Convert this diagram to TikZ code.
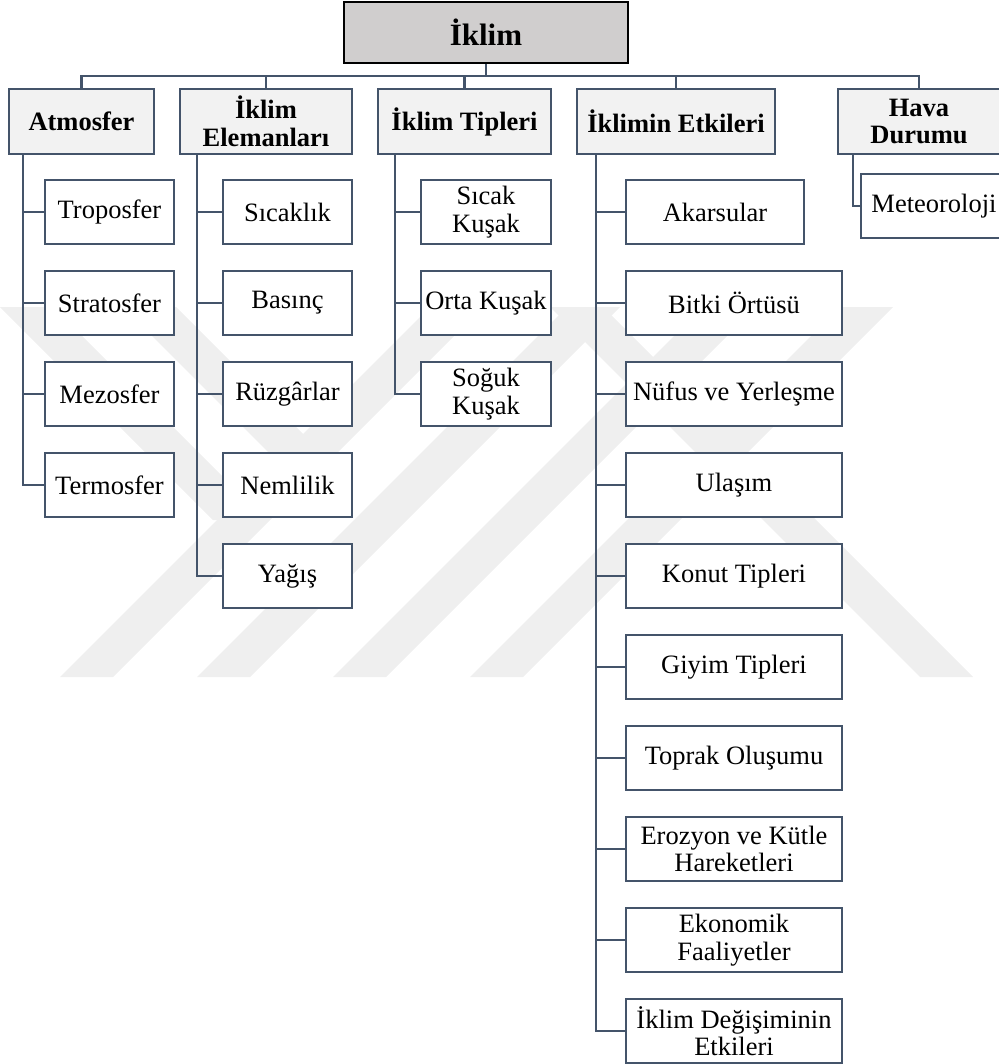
\documentclass[tikz,border=0pt]{standalone}
\usepackage{fontspec}
\setmainfont{Liberation Serif}
\definecolor{slate}{HTML}{44546A}
\definecolor{rootgray}{HTML}{D0CECE}
\definecolor{lvlgray}{HTML}{F2F2F2}
\definecolor{wmgray}{HTML}{EFEFEF}
\tikzset{
  conn/.style={draw=slate, line width=2.3pt},
  rootbox/.style={draw=black, line width=2.5pt, fill=rootgray, inner sep=0pt,
    minimum width=284pt, minimum height=61pt, font=\fontsize{31}{32}\selectfont\bfseries},
  topbox/.style={draw=slate, line width=2.3pt, fill=lvlgray, inner sep=0pt, align=center,
    minimum height=65pt, font=\fontsize{26.5}{27.5}\selectfont\bfseries},
  leafbox/.style={draw=slate, line width=2.3pt, fill=white, inner sep=0pt, align=center,
    minimum height=64pt, font=\fontsize{26.5}{27.5}\selectfont},
  wm/.style={fill=wmgray}
}
\begin{document}
\begin{tikzpicture}[x=1pt, y=-1pt]
\useasboundingbox (0,0) rectangle (998,1064);
% watermark
\fill[wm] (60,677) -- (113,677) -- (483,307) -- (430,307) -- cycle;
\fill[wm] (197,677) -- (250,677) -- (620,307) -- (567,307) -- cycle;
\fill[wm] (333,677) -- (386,677) -- (756,307) -- (703,307) -- cycle;
\fill[wm] (470,677) -- (523,677) -- (893,307) -- (840,307) -- cycle;
\fill[wm] (550,307) -- (603,307) -- (973,677) -- (920,677) -- cycle;
\fill[wm] (0,307) -- (53,307) -- (266,520) -- (213,520) -- cycle;
\fill[wm] (123,307) -- (176,307) -- (324,455) -- (271,455) -- cycle;

% root
\node[rootbox] (root) at (486,32.5) {İklim};
% level 1
\node[topbox, minimum width=145pt] (atm) at (81.5,121.5) {Atmosfer};
\node[topbox, minimum width=172pt] (elm) at (266,121.5) {İklim\\Elemanları};
\node[topbox, minimum width=173pt] (tip) at (464.5,121.5) {İklim Tipleri};
\node[topbox, minimum width=198pt] (etk) at (676,121.5) {İklimin Etkileri};
\node[topbox, minimum width=162pt] (hava) at (919,121.5) {Hava\\Durumu};

% bus
\coordinate (busL) at (81,76);
\coordinate (busR) at (919,76);
\draw[conn] (root.south) -- (root.south |- busL);
\draw[conn] (atm.north) |- (busR) -- (hava.north);
\draw[conn] (elm.north) -- (elm.north |- busL);
\draw[conn] (tip.north) -- (tip.north |- busL);
\draw[conn] (etk.north) -- (etk.north |- busL);

% Atmosfer children
\begin{scope}[every node/.style={leafbox, minimum width=129pt}]
\node (tro) at (109.5,212) {Troposfer};
\node (str) at (109.5,303) {Stratosfer};
\node (mez) at (109.5,394) {Mezosfer};
\node (ter) at (109.5,485) {Termosfer};
\end{scope}
\foreach \c in {tro,str,mez,ter}
  \draw[conn] ([xshift=15pt]atm.south west) |- (\c.west);

% Elemanlari children
\begin{scope}[every node/.style={leafbox, minimum width=129pt}]
\node (sic) at (287.5,212) {Sıcaklık};
\node (bas) at (287.5,303) {Basınç};
\node (ruz) at (287.5,394) {Rüzgârlar};
\node (nem) at (287.5,485) {Nemlilik};
\node (yag) at (287.5,576) {Yağış};
\end{scope}
\foreach \c in {sic,bas,ruz,nem,yag}
  \draw[conn] ([xshift=18pt]elm.south west) |- (\c.west);

% Tipleri children
\begin{scope}[every node/.style={leafbox, minimum width=130pt}]
\node (sk) at (486,212) {Sıcak\\Kuşak};
\node (ok) at (486,303) {Orta Kuşak};
\node (gk) at (486,394) {Soğuk\\Kuşak};
\end{scope}
\foreach \c in {sk,ok,gk}
  \draw[conn] ([xshift=18pt]tip.south west) |- (\c.west);

% Etkileri children
\node[leafbox, minimum width=178pt] (e1) at (715,212) {Akarsular};
\begin{scope}[every node/.style={leafbox, minimum width=216pt}]
\node (e2) at (734,303) {Bitki Örtüsü};
\node (e3) at (734,394) {Nüfus ve Yerleşme};
\node (e4) at (734,485) {Ulaşım};
\node (e5) at (734,576) {Konut Tipleri};
\node (e6) at (734,667) {Giyim Tipleri};
\node (e7) at (734,758) {Toprak Oluşumu};
\node (e8) at (734,849) {Erozyon ve Kütle\\Hareketleri};
\node (e9) at (734,940) {Ekonomik\\Faaliyetler};
\node (e10) at (734,1031) {İklim Değişiminin\\Etkileri};
\end{scope}
\foreach \c in {e1,e2,e3,e4,e5,e6,e7,e8,e9,e10}
  \draw[conn] ([xshift=20pt]etk.south west) |- (\c.west);

% Hava Durumu child
\node[leafbox, minimum width=146pt] (met) at (934,206) {Meteoroloji};
\draw[conn] ([xshift=16pt]hava.south west) |- (met.west);
\end{tikzpicture}
\end{document}
